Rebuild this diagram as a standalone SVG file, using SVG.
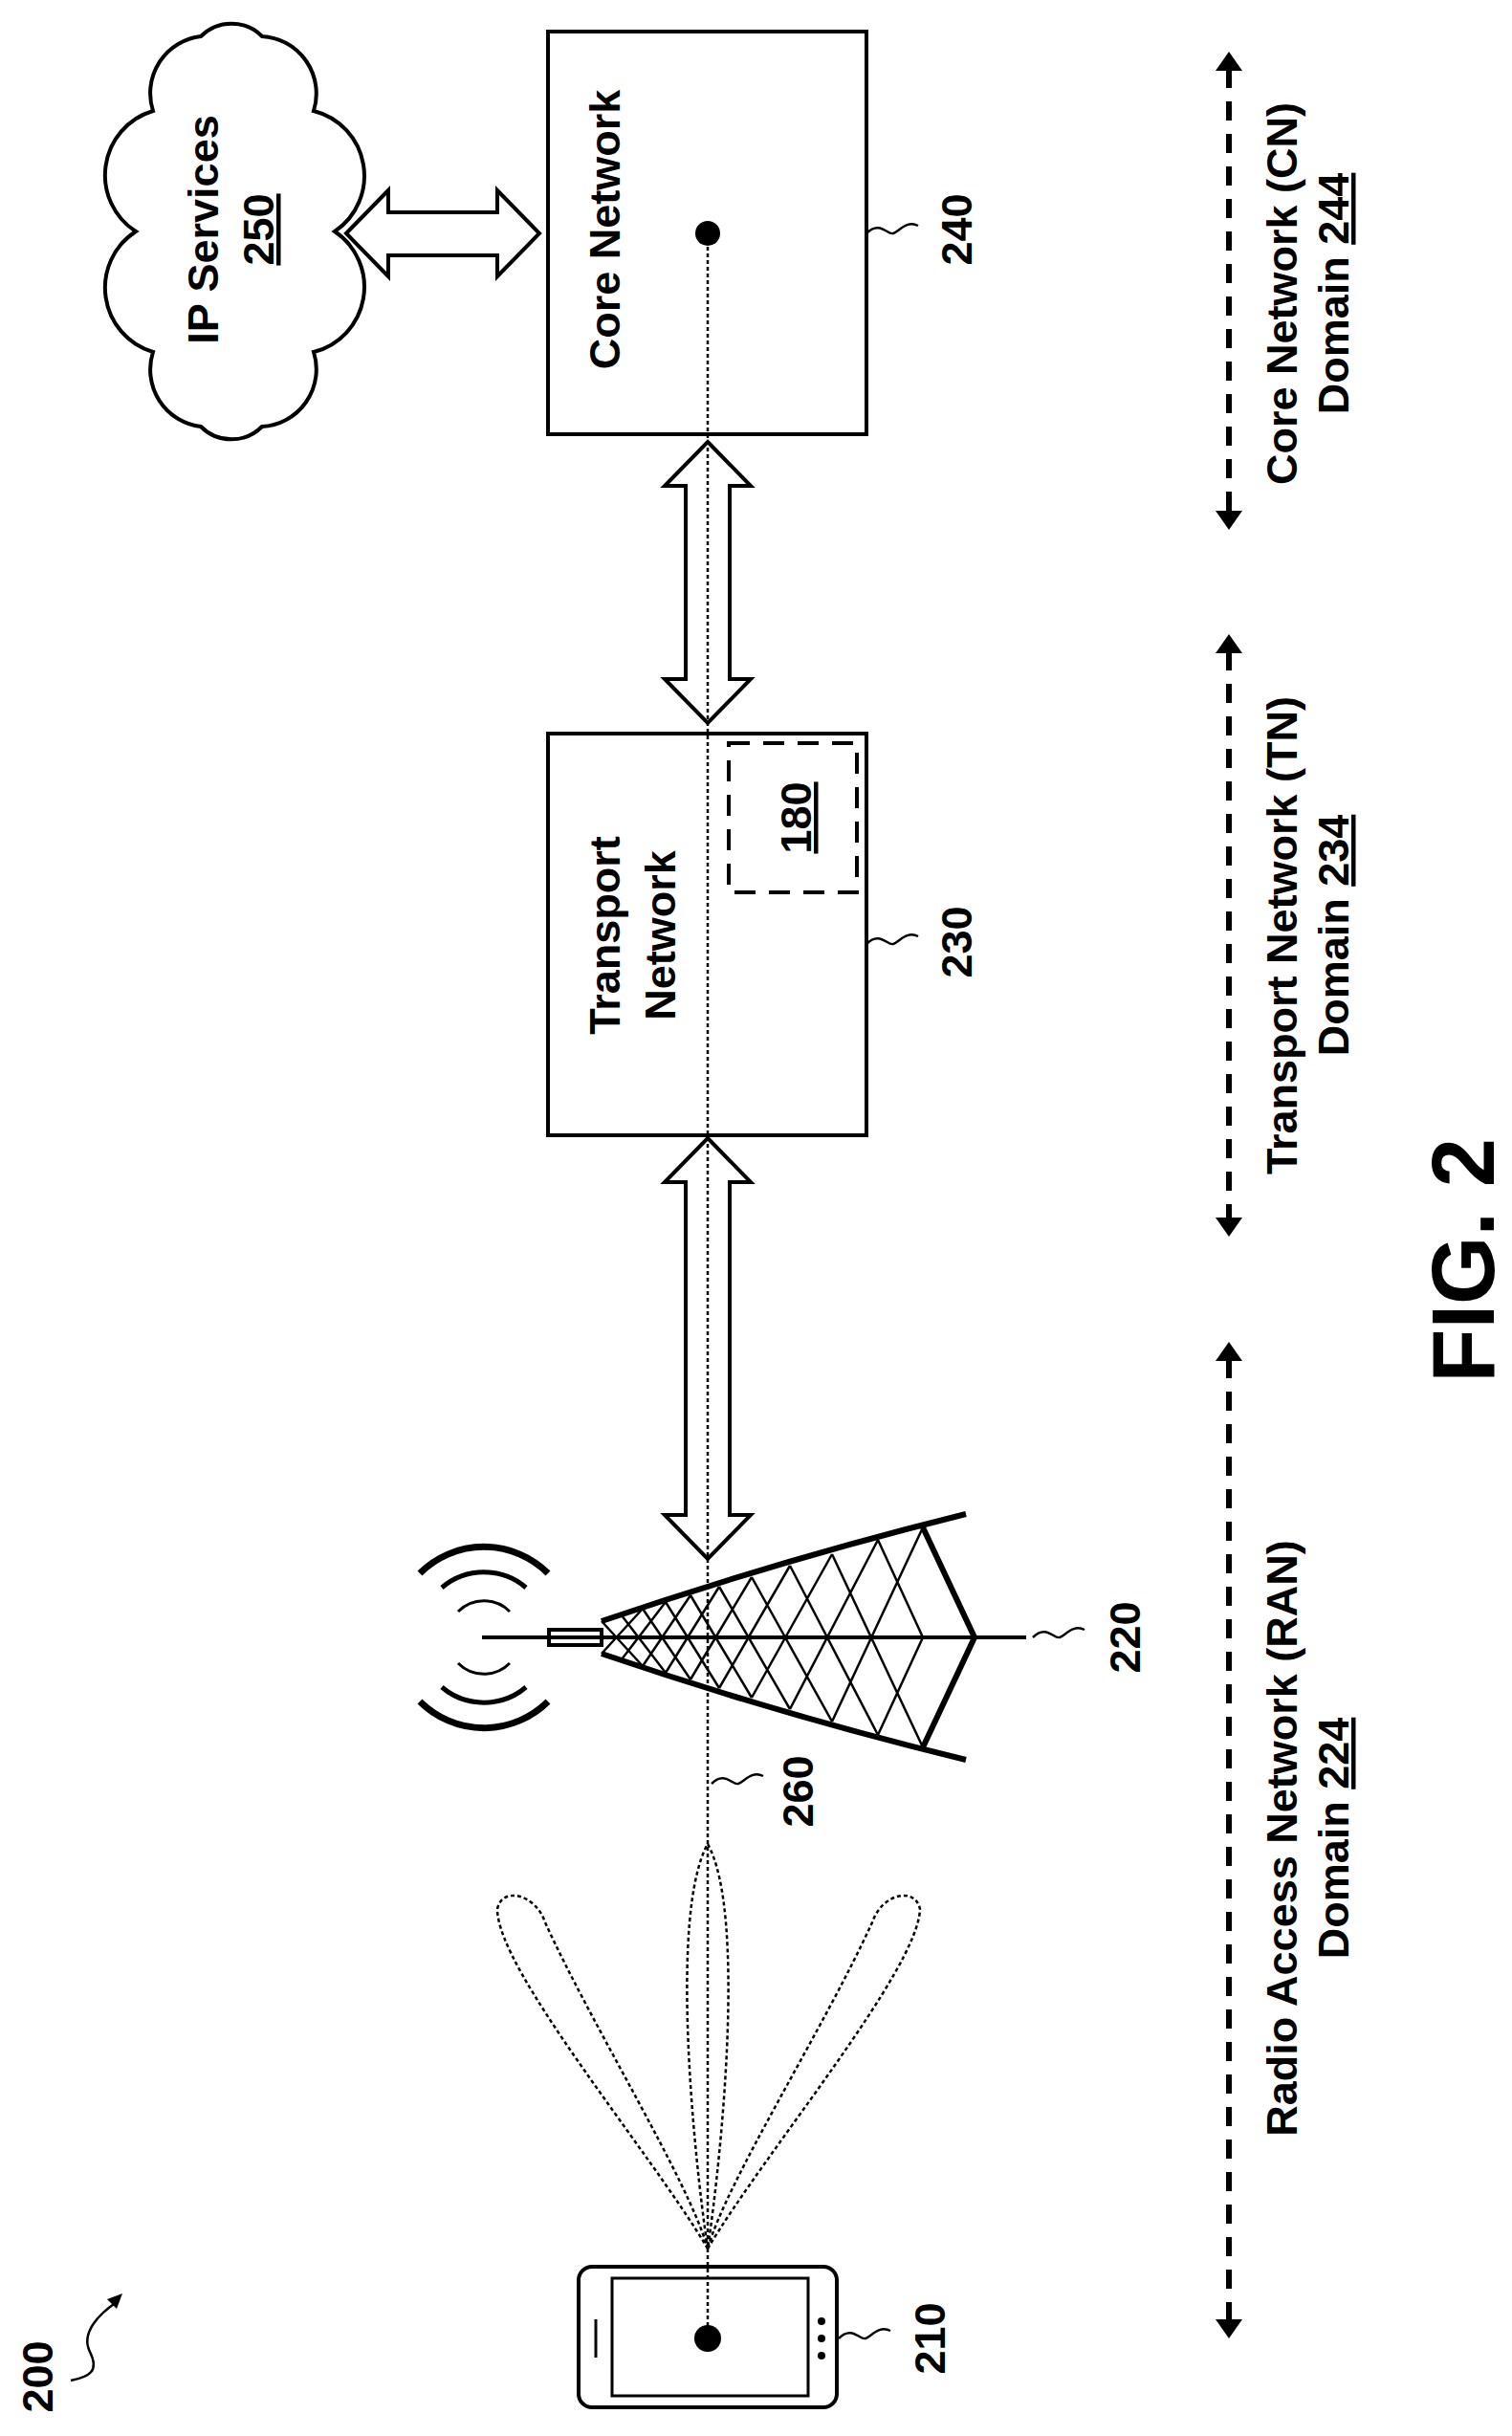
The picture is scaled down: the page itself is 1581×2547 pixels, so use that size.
<svg xmlns="http://www.w3.org/2000/svg" width="1581" height="2547" viewBox="0 0 1581 2547">
<style>
text{font-family:"Liberation Sans",Arial,sans-serif;font-weight:bold;fill:#000;text-anchor:middle}
.t{font-size:45px}
.ln{fill:none;stroke:#000;stroke-width:4}
.th{fill:none;stroke:#000;stroke-width:2.5}
.dot{fill:none;stroke:#000;stroke-width:2.5;stroke-dasharray:4,3}
.big{fill:#fff;stroke:#000;stroke-width:4;stroke-linejoin:miter}
.dash{fill:none;stroke:#000;stroke-width:6;stroke-dasharray:20,14}
</style>
<rect width="1581" height="2547" fill="#fff"/>
<g id="connectors">
<line class="dot" x1="740" y1="244" x2="740" y2="2445"/>
<polygon class="big" points="362,244 406,199 406,222 520,222 520,199 564,244 520,289 520,267 406,267 406,289"/>
<polygon class="big" points="740,462 785,508 763,508 763,710 785,710 740,756 695,710 717,710 717,508 695,508" fill-opacity="0"/>
<polygon class="big" points="740,1190 785,1236 763,1236 763,1584 785,1584 740,1630 695,1584 717,1584 717,1236 695,1236" fill-opacity="0"/>
</g>
<g id="cloud250">
<path class="ln" d="M350,242 A70,70 0 0 1 328,368 A60,60 0 0 1 274,446 A45,45 0 0 1 210,446 A60,60 0 0 1 160,368 A70,70 0 0 1 142,242 A70,70 0 0 1 160,116 A60,60 0 0 1 210,38 A45,45 0 0 1 274,38 A60,60 0 0 1 328,116 A70,70 0 0 1 350,242 Z"/>
<text class="t" transform="translate(228,240) rotate(-90)">IP Services</text>
<text class="t" transform="translate(286,240) rotate(-90)" text-decoration="underline">250</text>
</g>
<g id="core240">
<rect class="ln" x="573" y="33" width="333" height="421"/>
<circle cx="740" cy="244" r="13"/>
<text class="t" transform="translate(648,240) rotate(-90)">Core Network</text>
<path class="th" d="M906,244 c14,-14 22,2 28,0 s14,-14 26,-8"/>
<text class="t" transform="translate(1016,240) rotate(-90)">240</text>
</g>
<g id="transport230">
<rect class="ln" x="573" y="767" width="333" height="420"/>
<text class="t" transform="translate(648,978) rotate(-90)">Transport</text>
<text class="t" transform="translate(706,978) rotate(-90)">Network</text>
<rect x="762" y="777" width="134" height="156" fill="none" stroke="#000" stroke-width="4" stroke-dasharray="22,14"/>
<text class="t" transform="translate(848,855) rotate(-90)" text-decoration="underline">180</text>
<path class="th" d="M906,987 c14,-14 22,2 28,0 s14,-14 26,-8"/>
<text class="t" transform="translate(1016,985) rotate(-90)">230</text>
</g>
<g id="tower220">
<line x1="504" y1="1712" x2="1073" y2="1712" stroke="#000" stroke-width="4"/>
<rect x="574" y="1704" width="55" height="16" fill="none" stroke="#000" stroke-width="4"/>
<path d="M629,1695 Q820,1630 1010,1583 M629,1729 Q820,1794 1010,1840" fill="none" stroke="#000" stroke-width="6"/>
<path d="M965,1597 L1019,1712 L965,1827" fill="none" stroke="#000" stroke-width="6"/>
<path class="th" stroke-width="3" d="M629,1695L672,1742M650,1689L696,1749M672,1682L722,1756M696,1675L752,1765M722,1668L786,1775M752,1659L826,1787M786,1649L870,1800M826,1637L918,1814M870,1625L965,1827M918,1610L965,1712M629,1729L672,1682M650,1735L696,1675M672,1742L722,1668M696,1749L752,1659M722,1756L786,1649M752,1765L826,1637M786,1775L870,1625M826,1787L918,1610M870,1800L965,1597M918,1814L965,1712"/>
<path d="M479,1685 A38,38 0 0 1 533,1685 M479,1739 A38,38 0 0 0 533,1739" fill="none" stroke="#000" stroke-width="3"/>
<path d="M462,1660 A68,68 0 0 1 550,1660 M462,1764 A68,68 0 0 0 550,1764" fill="none" stroke="#000" stroke-width="5"/>
<path d="M439,1645 A95,95 0 0 1 573,1645 M439,1779 A95,95 0 0 0 573,1779" fill="none" stroke="#000" stroke-width="7"/>
<path class="th" d="M1080,1712 c14,-14 22,2 28,0 s14,-14 26,-8"/>
<text class="t" transform="translate(1192,1712) rotate(-90)">220</text>
</g>
<g id="link260">
<path class="th" d="M744,1865 c14,-14 22,2 28,0 s14,-14 26,-8"/>
<text class="t" transform="translate(850,1873) rotate(-90)">260</text>
</g>
<g id="beams">
<path class="dot" d="M740,2351 C725,2250 700,2000 740,1928 C780,2000 755,2250 740,2351 Z"/>
<path class="dot" d="M740,2351 C680,2250 520,2060 520,1996 C525,1972 560,1980 570,2010 C620,2120 720,2280 740,2351 Z"/>
<path class="dot" d="M740,2351 C800,2250 960,2060 962,1996 C957,1972 922,1980 912,2010 C862,2120 760,2280 740,2351 Z"/>
</g>
<g id="phone210">
<rect class="ln" x="605" y="2370" width="270" height="147" rx="14"/>
<rect x="640" y="2382" width="205" height="123" fill="none" stroke="#000" stroke-width="3"/>
<circle cx="740" cy="2445" r="14"/>
<line x1="623" y1="2425" x2="623" y2="2465" stroke="#000" stroke-width="3"/>
<circle cx="859" cy="2427" r="4"/><circle cx="859" cy="2445" r="4"/><circle cx="859" cy="2463" r="4"/>
<path class="th" d="M877,2445 c14,-14 22,2 28,0 s14,-14 26,-8"/>
<text class="t" transform="translate(988,2445) rotate(-90)">210</text>
</g>
<g id="label200">
<text class="t" transform="translate(55,2485) rotate(-90)">200</text>
<path class="th" d="M74,2489 c20,-4 30,-10 20,-30 s10,-40 28,-52"/>
<polygon points="128,2398 112,2404 122,2414"/>
</g>
<g id="domains">
<line class="dash" x1="1285" y1="72" x2="1285" y2="536"/>
<polygon points="1285,54 1271,74 1299,74"/><polygon points="1285,554 1271,534 1299,534"/>
<text class="t" transform="translate(1356,307) rotate(-90)">Core Network (CN)</text>
<text class="t" transform="translate(1410,307) rotate(-90)">Domain <tspan text-decoration="underline">244</tspan></text>
<line class="dash" x1="1285" y1="681" x2="1285" y2="1275"/>
<polygon points="1285,663 1271,683 1299,683"/><polygon points="1285,1293 1271,1273 1299,1273"/>
<text class="t" transform="translate(1356,978) rotate(-90)">Transport Network (TN)</text>
<text class="t" transform="translate(1410,978) rotate(-90)">Domain <tspan text-decoration="underline">234</tspan></text>
<line class="dash" x1="1285" y1="1421" x2="1285" y2="2427"/>
<polygon points="1285,1403 1271,1423 1299,1423"/><polygon points="1285,2445 1271,2425 1299,2425"/>
<text class="t" transform="translate(1356,1922) rotate(-90)">Radio Access Network (RAN)</text>
<text class="t" transform="translate(1410,1922) rotate(-90)">Domain <tspan text-decoration="underline">224</tspan></text>
</g>
<text transform="translate(1562,1318) rotate(-90)" style="font-size:92px">FIG. 2</text>
</svg>
